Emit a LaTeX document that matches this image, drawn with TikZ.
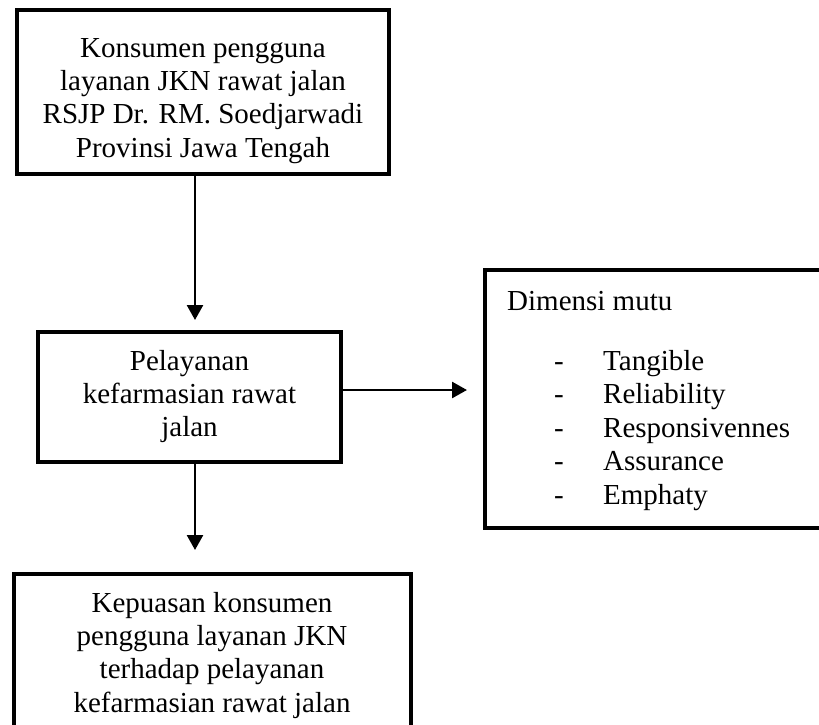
\documentclass[tikz,border=0pt]{standalone}
\usepackage{fontspec}
\setmainfont{Liberation Serif}
\usetikzlibrary{arrows.meta,calc}
\tikzstyle{kotak} = [draw, line width=4pt, inner sep=0pt, outer sep=0pt]
\tikzstyle{panah} = [draw, line width=2.6pt, -{Triangle[width=16pt,length=15pt]}]
\tikzstyle{teks} = [inner sep=0pt, font=\fontsize{29}{33.4}\selectfont]

\begin{document}
\begin{tikzpicture}[x=1pt,y=-1pt]

\useasboundingbox (0,0) rectangle (819,724);
\clip (0,0) rectangle (819,724);

%\draw[help lines] (0,0) grid (819,724);

% kotak-kotak
\node[kotak, minimum width=372pt, minimum height=164pt] (k1box) at (203,92) {};
\node[kotak, minimum width=303pt, minimum height=130pt] (k2box) at (189.5,397) {};
\node[kotak, minimum width=347pt, minimum height=258pt] (k3box) at (658.5,399) {};
\node[kotak, minimum width=397.5pt, minimum height=186pt] (k4box) at (212.25,667) {};

% isi kotak
\node[teks, anchor=base] (k1) at (203,57) {\parbox[t]{370pt}{\centering
  Konsumen pengguna\\ layanan JKN rawat jalan\\ RSJP Dr. RM. Soedjarwadi\\ Provinsi Jawa Tengah}};
\node[teks, anchor=base] (k2) at (189.5,370) {\parbox[t]{295pt}{\centering
  Pelayanan\\ kefarmasian rawat\\ jalan}};
\node[teks, anchor=base] (k4) at (212,612) {\parbox[t]{390pt}{\centering
  Kepuasan konsumen\\ pengguna layanan JKN\\ terhadap pelayanan\\ kefarmasian rawat jalan}};

\node[teks, anchor=base west] (k3) at (507,310) {Dimensi mutu};
\foreach \mutu [count=\i] in {Tangible,Reliability,Responsivennes,Assurance,Emphaty} {
	\node[teks, anchor=base west] (s\i) at (554,{370+33.6*(\i-1)}) {-};
	\node[teks, anchor=base west] (m\i) at (603,{370+33.6*(\i-1)}) {\mutu};
}

% panah
\coordinate (sumbu) at (195,390);
\draw[panah, shorten >=12pt] (k1box.south -| sumbu) -- (k2box.north -| sumbu);
\draw[panah, shorten >=18pt] (k2box.east |- sumbu) -- (k3box.west |- sumbu);
\draw[panah, shorten >=24pt] (k2box.south -| sumbu) -- (k4box.north -| sumbu);

\end{tikzpicture}
\end{document}
